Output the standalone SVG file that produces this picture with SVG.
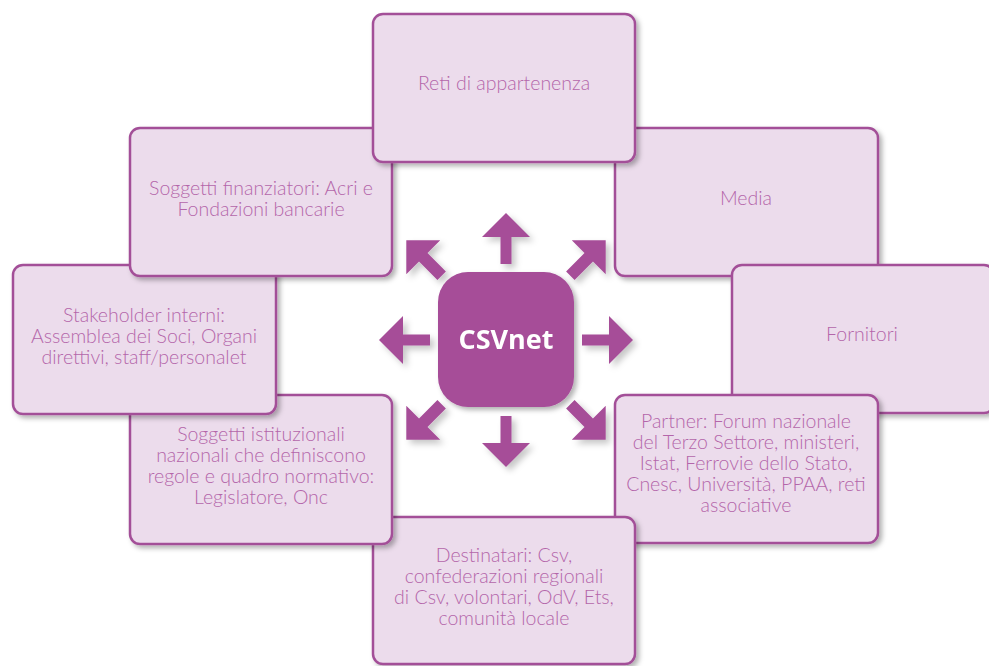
<svg xmlns="http://www.w3.org/2000/svg" width="989" height="666" viewBox="0 0 989 666">
  <defs>
    <filter id="sh" x="-10%" y="-10%" width="130%" height="130%">
      <feDropShadow dx="3" dy="3" stdDeviation="2.5" flood-color="#000" flood-opacity="0.3"/>
    </filter>
    <filter id="ash" x="-30%" y="-30%" width="180%" height="180%">
      <feDropShadow dx="4" dy="4" stdDeviation="3" flood-color="#000" flood-opacity="0.22"/>
    </filter>
    <path id="arrowS" d="M0,-127 L24,-103 L5.5,-103 L5.5,-76 L-5.5,-76 L-5.5,-103 L-24,-103 Z"/>
    <path id="arrowD" d="M0,-141 L24,-117 L6,-117 L6,-91 L-6,-91 L-6,-117 L-24,-117 Z"/>
  </defs>
  <style>
    .box { fill: #ecdcec; stroke: #a34f98; stroke-width: 2.5; filter: url(#sh); }
    .lbl { font-family: "Lato", "Open Sans", "Liberation Sans", sans-serif; font-weight: 300; font-size: 19.5px; fill: #b466aa; text-anchor: middle; }
    .arr { fill: #a64d98; }
    .core { fill: #a64d98; filter: url(#sh); }
    .coretxt { font-family: "Open Sans", "Lato", "Liberation Sans", sans-serif; font-weight: 700; font-size: 27px; fill: #ffffff; text-anchor: middle; }
  </style>
  <rect width="989" height="666" fill="#ffffff"/>

  <g id="media">
    <rect class="box" x="615" y="128" width="263" height="148" rx="10"/>
    <text class="lbl" x="746" y="205">Media</text>
  </g>
  <g id="fornitori">
    <rect class="box" x="732" y="265" width="262" height="148" rx="10"/>
    <text class="lbl" x="862" y="341">Fornitori</text>
  </g>
  <g id="partner">
    <rect class="box" x="615" y="395" width="263" height="148" rx="10"/>
    <text class="lbl" x="746" y="428">Partner: Forum nazionale</text>
    <text class="lbl" x="746" y="449">del Terzo Settore, ministeri,</text>
    <text class="lbl" x="746" y="470">Istat, Ferrovie dello Stato,</text>
    <text class="lbl" x="746" y="491">Cnesc, Università, PPAA, reti</text>
    <text class="lbl" x="746" y="512">associative</text>
  </g>
  <g id="destinatari">
    <rect class="box" x="373" y="517" width="262" height="147" rx="10"/>
    <text class="lbl" x="504" y="562">Destinatari: Csv,</text>
    <text class="lbl" x="504" y="583">confederazioni regionali</text>
    <text class="lbl" x="504" y="604">di Csv, volontari, OdV, Ets,</text>
    <text class="lbl" x="504" y="625">comunità locale</text>
  </g>
  <g id="istituzionali">
    <rect class="box" x="130" y="395" width="262" height="149" rx="10"/>
    <text class="lbl" x="261" y="441">Soggetti istituzionali</text>
    <text class="lbl" x="261" y="462">nazionali che definiscono</text>
    <text class="lbl" x="261" y="483">regole e quadro normativo:</text>
    <text class="lbl" x="261" y="504">Legislatore, Onc</text>
  </g>
  <g id="stakeholder">
    <rect class="box" x="13" y="265" width="263" height="149" rx="10"/>
    <text class="lbl" x="144" y="322">Stakeholder interni:</text>
    <text class="lbl" x="144" y="343">Assemblea dei Soci, Organi</text>
    <text class="lbl" x="144" y="364">direttivi, staff/personalet</text>
  </g>
  <g id="finanziatori">
    <rect class="box" x="130" y="128" width="262" height="148" rx="10"/>
    <text class="lbl" x="261" y="195">Soggetti finanziatori: Acri e</text>
    <text class="lbl" x="261" y="216">Fondazioni bancarie</text>
  </g>
  <g id="reti">
    <rect class="box" x="373" y="14" width="262" height="148" rx="10"/>
    <text class="lbl" x="504" y="90">Reti di appartenenza</text>
  </g>

  <g id="connectors" filter="url(#ash)">
    <g transform="translate(506,340)">
      <use href="#arrowS" class="arr"/>
      <use href="#arrowS" class="arr" transform="rotate(90)"/>
      <use href="#arrowS" class="arr" transform="rotate(180)"/>
      <use href="#arrowS" class="arr" transform="rotate(270)"/>
      <use href="#arrowD" class="arr" transform="rotate(45)"/>
      <use href="#arrowD" class="arr" transform="rotate(135)"/>
      <use href="#arrowD" class="arr" transform="rotate(225)"/>
      <use href="#arrowD" class="arr" transform="rotate(315)"/>
    </g>
  </g>

  <g id="csvnet">
    <rect class="core" x="438" y="272" width="136" height="135" rx="30"/>
    <text class="coretxt" x="506" y="349">CSVnet</text>
  </g>
</svg>
